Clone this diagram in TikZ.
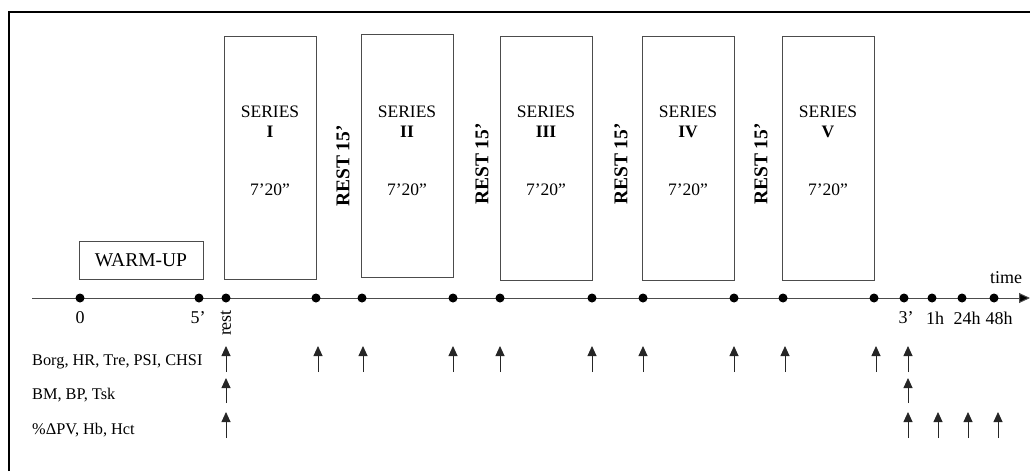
\documentclass[tikz,border=0pt]{standalone}
\usepackage{fontspec}
\setmainfont{Liberation Serif}
\usetikzlibrary{arrows.meta}
\begin{document}
\begin{tikzpicture}[x=1pt,y=-1pt,
  seriesbox/.style={draw=black!70,line width=0.9pt},
  dot/.style={circle,fill=black,inner sep=0pt,minimum size=9pt},
  lbl/.style={font=\fontsize{16.3}{18}\selectfont,inner sep=0pt},
  restlbl/.style={font=\fontsize{19.5}{21}\selectfont\bfseries,rotate=90,inner sep=0pt},
  marker/.style={-{Triangle[width=9pt,length=10pt]},line width=0.9pt,black!85},
  stxt/.style={font=\fontsize{17.5}{19}\selectfont,inner sep=0pt}]
\useasboundingbox (0,0) rectangle (1030,471);
% frame
\draw[line width=1.6pt] (9,471) -- (9,12) -- (1030,12);
% series boxes
\draw[seriesbox] (224,36) rectangle (316,279);
\draw[seriesbox] (361,34) rectangle (453,277);
\draw[seriesbox] (500,36) rectangle (592,280);
\draw[seriesbox] (642,36) rectangle (734,280);
\draw[seriesbox] (782,36) rectangle (874,280);
\foreach \cx/\num in {270/I,407/II,546/III,688/IV,828/V}{
  \node[stxt] (s\num) at (\cx,112) {SERIES};
  \node[stxt,font=\fontsize{17.5}{19}\selectfont\bfseries] (n\num) at (\cx,132) {\num};
  \node[stxt] (t\num) at (\cx,190) {7’20”};
}
% rest labels
\node[restlbl] (r1) at (343,166) {REST 15’};
\node[restlbl] (r2) at (482,164) {REST 15’};
\node[restlbl] (r3) at (621,164) {REST 15’};
\node[restlbl] (r4) at (761,164) {REST 15’};
% warm-up
\node[draw=black!70,line width=0.9pt,minimum width=124pt,minimum height=38pt,inner sep=0pt,
  font=\fontsize{19.5}{21}\selectfont] (wu) at (141,260) {WARM-UP};
% axis
\coordinate (a0) at (32,298);
\coordinate (a1) at (1030,298);
\draw[black!70,line width=1pt,-{Triangle[width=10pt,length=11pt,fill=black]}] (a0) -- (a1);
\foreach \n/\x in {p0/80,p5/199,prest/226,e1/316,b2/362,e2/453,b3/500,e3/592,b4/643,e4/734,b5/783,e5/874,q3/904,q1h/932,q24/962,q48/994}{
  \node[dot] (\n) at (\x,298) {};
}
\node[lbl,font=\fontsize{18}{20}\selectfont] (time) at (1006,278) {time};
\node[lbl,font=\fontsize{18}{20}\selectfont] (l0) at (80,318) {0};
\node[lbl,font=\fontsize{18}{20}\selectfont] (l5) at (198,318) {5’};
\node[lbl,font=\fontsize{18}{20}\selectfont,rotate=90] (lrest) at (226,323) {rest};
\node[lbl,font=\fontsize{18}{20}\selectfont] (l3) at (906,318) {3’};
\node[lbl,font=\fontsize{18}{20}\selectfont] (l1h) at (935,318) {1h};
\node[lbl,font=\fontsize{18}{20}\selectfont] (l24) at (967,318) {24h};
\node[lbl,font=\fontsize{18}{20}\selectfont] (l48) at (999,318) {48h};
% row labels
\node[lbl,anchor=west] (row1) at (32,362) {Borg, HR, Tre, PSI, CHSI};
\node[lbl,anchor=west] (row2) at (32,395) {BM, BP, Tsk};
\node[lbl,anchor=west] (row3) at (32,430) {\%ΔPV, Hb, Hct};
% arrows row 1
\foreach \x [count=\i] in {226,318,363,453,500,592,643,734,785,876,908}{
  \coordinate (ra\i) at (\x,372);
  \coordinate (rb\i) at (\x,346);
  \draw[marker] (ra\i) -- (rb\i);
}
% row 2
\foreach \x [count=\i] in {226,908}{
  \coordinate (sa\i) at (\x,403);
  \coordinate (sb\i) at (\x,378);
  \draw[marker] (sa\i) -- (sb\i);
}
% row 3
\foreach \x [count=\i] in {226,908,938,968,998}{
  \coordinate (ua\i) at (\x,438);
  \coordinate (ub\i) at (\x,412);
  \draw[marker] (ua\i) -- (ub\i);
}
\end{tikzpicture}
\end{document}
